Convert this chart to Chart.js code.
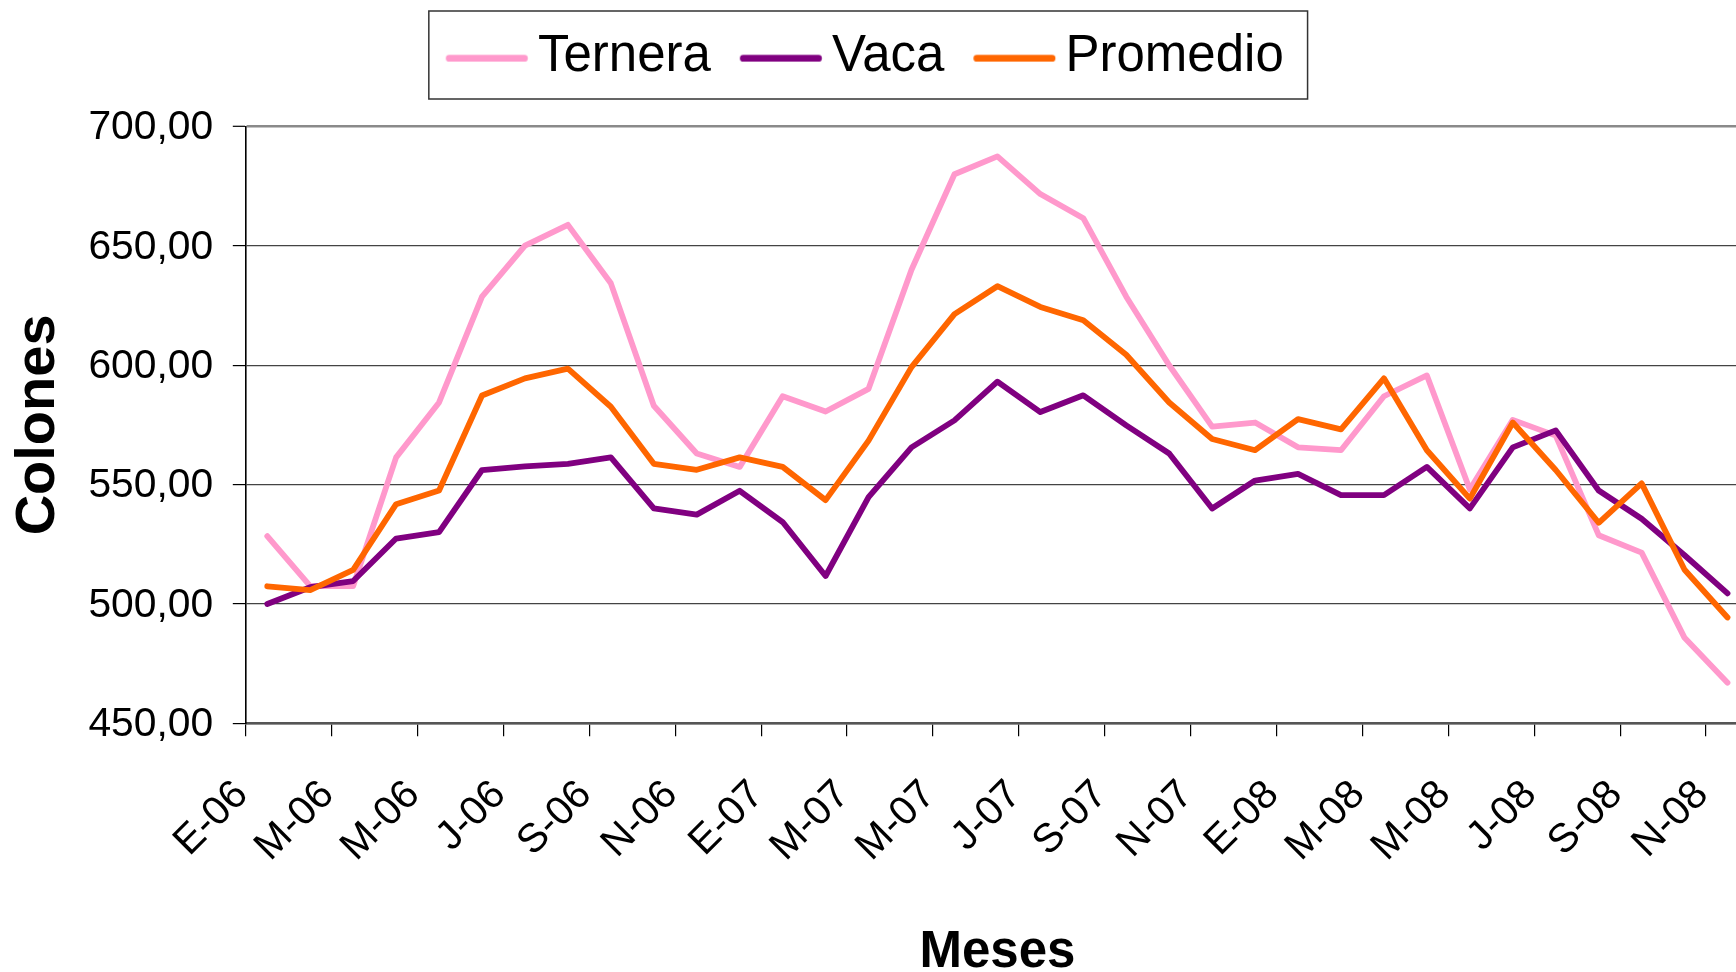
<!DOCTYPE html>
<html>
<head>
<meta charset="utf-8">
<script src="https://cdn.jsdelivr.net/npm/chart.js@4/dist/chart.umd.min.js"></script>
<style>
  html, body { margin: 0; padding: 0; background: #fff; overflow: hidden; }
  #wrap { width: 1736px; height: 972px; overflow: hidden; position: relative; }
  canvas { display: block; }
</style>
</head>
<body>
<div id="wrap"><canvas id="c" width="1809" height="972"></canvas></div>
<script>
// ---- data ----
const CATEGORIES = ['E-06','F-06','M-06','A-06','M-06','J-06','J-06','A-06','S-06','O-06','N-06','D-06',
                    'E-07','F-07','M-07','A-07','M-07','J-07','J-07','A-07','S-07','O-07','N-07','D-07',
                    'E-08','F-08','M-08','A-08','M-08','J-08','J-08','A-08','S-08','O-08','N-08'];
const SERIES_NAMES = ['Ternera', 'Vaca', 'Promedio'];
const TERNERA = [528.4, 507.5, 507.5, 561.4, 584.4, 628.7, 650.1, 658.8, 634.3, 583.0, 563.0, 557.4,
                 587.0, 580.6, 590.1, 640.0, 680.0, 687.5, 671.7, 661.6, 628.7, 600.0, 574.3, 576.0,
                 565.6, 564.4, 587.0, 595.7, 547.9, 577.1, 570.5, 528.8, 521.5, 485.8, 467.0];
const VACA    = [500.0, 507.0, 509.6, 527.4, 530.1, 556.1, 557.6, 558.7, 561.4, 540.0, 537.4, 547.4,
                 534.3, 511.7, 544.7, 565.6, 576.9, 593.1, 580.4, 587.4, 574.8, 563.0, 540.0, 551.7,
                 554.5, 545.6, 545.6, 557.4, 540.0, 565.6, 572.7, 547.5, 535.7, 520.4, 504.4];
const PROMEDIO = [507.4, 505.8, 514.3, 541.8, 547.5, 587.3, 594.5, 598.6, 582.6, 558.7, 556.2, 561.4,
                  557.4, 543.5, 568.4, 599.2, 621.4, 633.1, 624.4, 618.8, 604.4, 584.4, 569.1, 564.4,
                  577.4, 573.1, 594.5, 564.4, 544.1, 576.0, 556.1, 534.0, 550.5, 514.3, 494.3];
const Y_TICKS = [450, 500, 550, 600, 650, 700];
const COLORS = ['#FF99CC', '#800080', '#FF6600'];

const FONT = "'Liberation Sans', Arial, Helvetica, sans-serif";

// legend line swatch (drawn as an image so its spacing can match the original)
function legendLine(color) {
  const c = document.createElement('canvas');
  c.width = 101; c.height = 24;
  const g = c.getContext('2d');
  g.strokeStyle = color; g.lineWidth = 6.7; g.lineCap = 'round';
  g.beginPath(); g.moveTo(19.5, 13.7); g.lineTo(94.8, 13.7); g.stroke();
  return c;
}
const LEGEND_IMGS = COLORS.map(legendLine);

const legendFrame = {
  id: 'legendFrame',
  afterDraw(chart) {
    const hb = chart.legend && chart.legend.legendHitBoxes;
    if (!hb || !hb.length) return;
    const first = hb[0], last = hb[hb.length - 1];
    const ym = first.top + first.height / 2;
    const left = first.left - 2.1 - 17;
    const right = last.left + last.width + 23.8;
    const ctx = chart.ctx;
    ctx.save();
    ctx.strokeStyle = '#333';
    ctx.lineWidth = 1.5;
    ctx.strokeRect(left, ym - 45.6, right - left, 88);
    ctx.restore();
  }
};

const seriesData = [TERNERA, VACA, PROMEDIO];
const datasets = SERIES_NAMES.map((name, i) => ({
  label: name,
  data: seriesData[i],
  borderColor: COLORS[i],
  backgroundColor: COLORS[i],
  borderWidth: 5.8,
  pointRadius: 0,
  pointHoverRadius: 0,
  tension: 0,
  fill: false,
  borderJoinStyle: 'round',
  borderCapStyle: 'round',
  order: 3 - i
}));

Chart.defaults.font.family = FONT;
Chart.defaults.color = '#000';

new Chart(document.getElementById('c'), {
  type: 'line',
  data: { labels: CATEGORIES, datasets },
  plugins: [legendFrame],
  options: {
    responsive: false,
    animation: false,
    devicePixelRatio: 1,
    events: [],
    layout: { padding: { top: 0, left: -17.3, right: 60, bottom: 0 } },
    plugins: {
      tooltip: { enabled: false },
      title: {
        display: true, text: '', position: 'top', weight: 100,
        font: { size: 10, lineHeight: 1 }, padding: { top: 24.4, bottom: 0 }
      },
      legend: {
        display: true,
        position: 'top',
        align: 'center',
        labels: {
          usePointStyle: true,
          pointStyleWidth: 64.5,
          padding: 31.1,
          color: '#000',
          font: { size: 51, family: FONT },
          sort: (a, b) => a.datasetIndex - b.datasetIndex,
          generateLabels(chart) {
            const items = Chart.defaults.plugins.legend.labels.generateLabels(chart);
            items.forEach(it => { it.pointStyle = LEGEND_IMGS[it.datasetIndex]; });
            return items;
          }
        }
      }
    },
    scales: {
      x: {
        type: 'category',
        offset: true,
        grid: {
          offset: true,
          drawOnChartArea: false,
          drawTicks: true,
          tickLength: 13,
          color: ctx => (ctx.index % 2 === 0 ? '#000' : 'rgba(0,0,0,0)'),
          tickColor: ctx => (ctx.index % 2 === 0 ? '#000' : 'rgba(0,0,0,0)'),
          tickWidth: 1.2,
          lineWidth: 1.2
        },
        border: { display: true, color: '#555', width: 2.5 },
        ticks: {
          autoSkip: false,
          minRotation: 45,
          maxRotation: 45,
          padding: 35,
          labelOffset: -25.5,
          color: '#000',
          font: { size: 40.5, family: FONT },
          callback: function (value, index) {
            return index % 2 === 0 ? this.getLabelForValue(value) : '';
          }
        },
        title: {
          display: true,
          text: 'Meses',
          color: '#000',
          font: { size: 51, weight: 'bold', family: FONT, lineHeight: 0.75 },
          padding: { top: 0, bottom: 0 }
        },
        afterFit: s => { s.height = 972 - 723.3; }
      },
      y: {
        type: 'linear',
        min: 450,
        max: 700,
        afterBuildTicks: s => { s.ticks = Y_TICKS.map(v => ({ value: v })); },
        grid: {
          drawOnChartArea: true,
          drawTicks: true,
          tickLength: 13,
          color: ctx => (ctx.tick && ctx.tick.value === 700 ? '#8a8a8a' : '#444'),
          lineWidth: ctx => (ctx.tick && ctx.tick.value === 700 ? 2.6 : 1.2),
          tickColor: '#000',
          tickWidth: 1.2
        },
        border: { display: true, color: '#000', width: 1.6 },
        ticks: {
          padding: 19.6,
          labelOffset: 1.5,
          color: '#000',
          font: { size: 40.8, family: FONT },
          callback: v => Number(v).toFixed(2).replace('.', ',')
        },
        title: {
          display: true,
          text: 'Colones',
          color: '#000',
          font: { size: 56, weight: 'bold', family: FONT },
          padding: { top: 22.5, bottom: 0 }
        },
        afterFit: s => { s.width = 263.1; }
      }
    }
  }
});
</script>
</body>
</html>
